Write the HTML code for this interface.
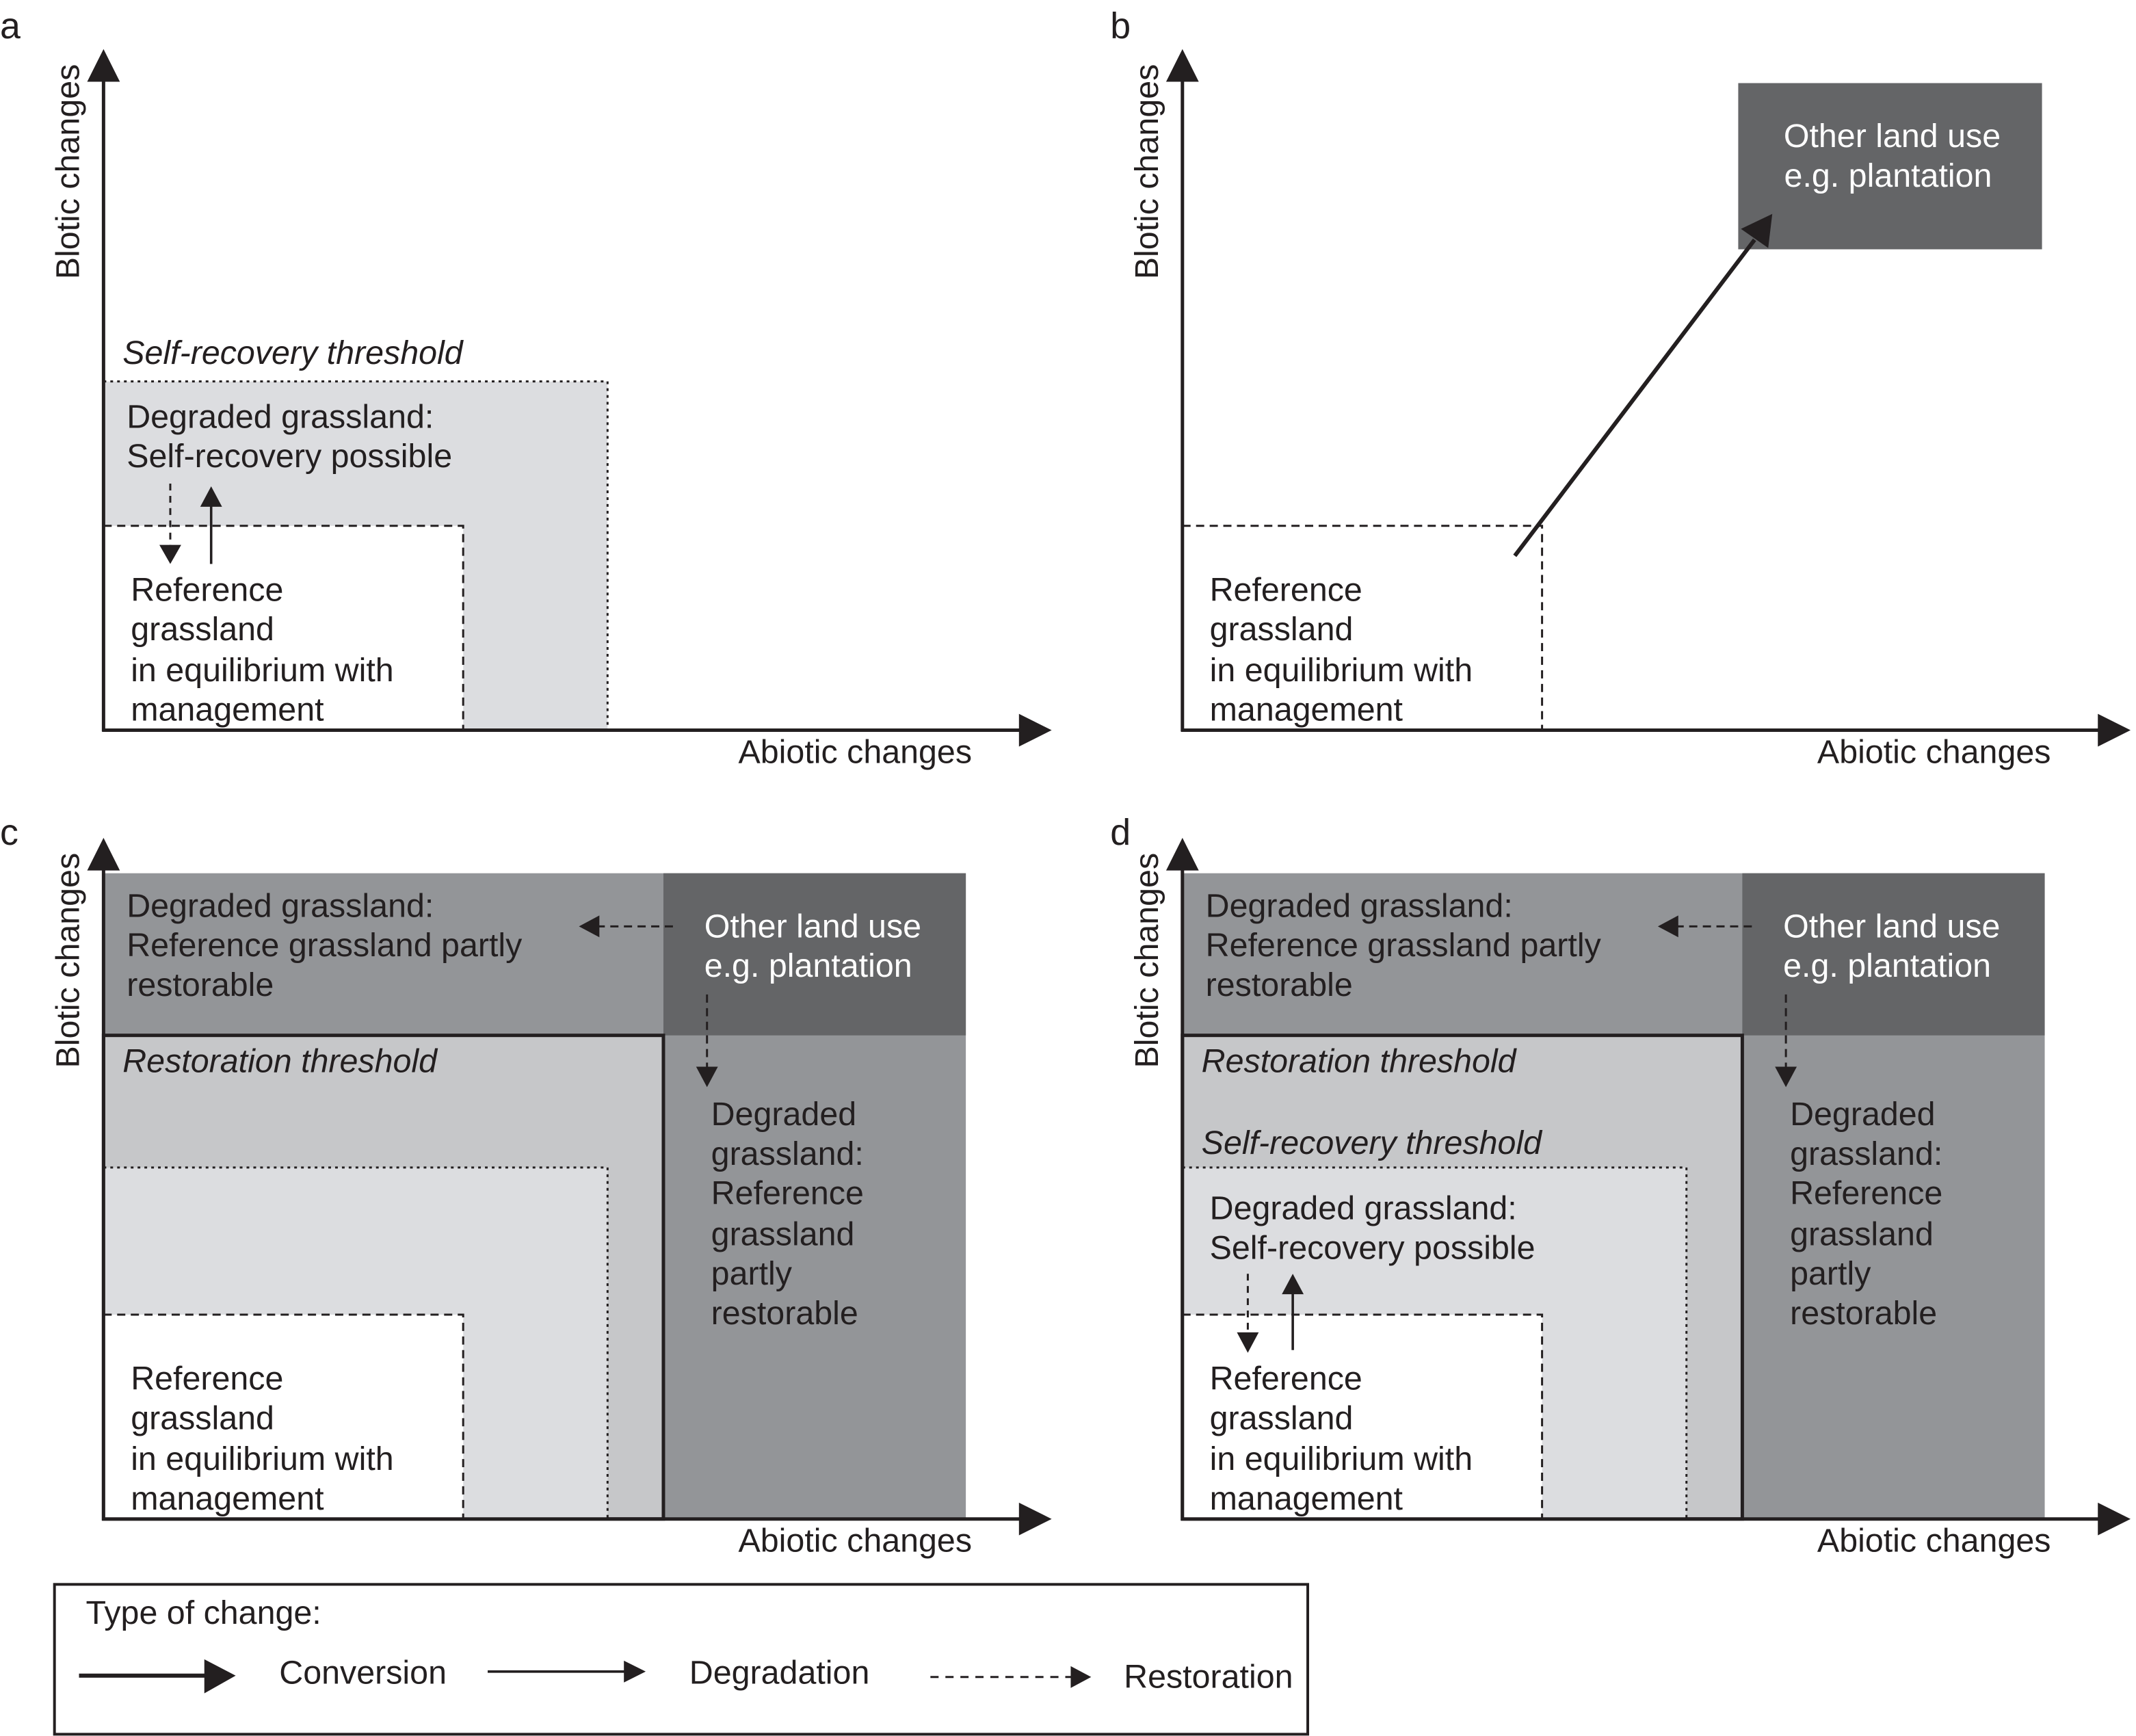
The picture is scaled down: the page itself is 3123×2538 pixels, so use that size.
<!DOCTYPE html>
<html><head><meta charset="utf-8"><style>
html,body{margin:0;padding:0;background:#fff}
svg{display:block}
text{font-family:"Liberation Sans",sans-serif;font-size:24.3px;fill:#231f20}
.it{font-style:italic}
.w{fill:#fff}
</style></head><body>
<svg width="3123" height="2538" viewBox="0 0 1568 1274.3" preserveAspectRatio="none" xmlns="http://www.w3.org/2000/svg">
<defs>
<g id="axes">
<line x1="76" y1="56" x2="76" y2="537" stroke="#231f20" stroke-width="2.5"/>
<polygon points="64,60 88,60 76,36" fill="#231f20"/>
<line x1="75" y1="536" x2="752" y2="536" stroke="#231f20" stroke-width="2.5"/>
<polygon points="748,524 748,548 772,536" fill="#231f20"/>
<text transform="translate(58,205) rotate(-90)">Blotic changes</text>
<text x="542" y="560">Abiotic changes</text>
</g>
<g id="ref">
<rect x="76" y="386" width="264" height="150" fill="#fff" stroke="#231f20" stroke-width="1.5" stroke-dasharray="6,4"/>
<text x="96" y="441">Reference</text>
<text x="96" y="470">grassland</text>
<text x="96" y="500">in equilibrium with</text>
<text x="96" y="529">management</text>
</g>
<g id="cbase">
<rect x="76" y="641" width="633" height="474" fill="#939598"/>
<rect x="487" y="641" width="222" height="119" fill="#646567"/>
<rect x="76" y="760" width="411" height="355" fill="#c6c7c9" stroke="#231f20" stroke-width="2.5"/>
<rect x="76" y="857" width="370" height="258" fill="#dcdde0" stroke="#231f20" stroke-width="1.5" stroke-dasharray="2,3"/>
<g transform="translate(0,579)"><use href="#ref"/></g>
<g transform="translate(0,579)"><use href="#axes"/></g>
<text x="93" y="673">Degraded grassland:</text>
<text x="93" y="702">Reference grassland partly</text>
<text x="93" y="731">restorable</text>
<text x="517" y="688" class="w">Other land use</text>
<text x="517" y="717" class="w">e.g. plantation</text>
<text x="90" y="787" class="it">Restoration threshold</text>
<text x="522" y="826">Degraded</text>
<text x="522" y="855">grassland:</text>
<text x="522" y="884">Reference</text>
<text x="522" y="914">grassland</text>
<text x="522" y="943">partly</text>
<text x="522" y="972">restorable</text>
<line x1="494" y1="680" x2="438" y2="680" stroke="#231f20" stroke-width="1.5" stroke-dasharray="6,4"/>
<polygon points="440,672 440,688 425,680" fill="#231f20"/>
<line x1="519" y1="730" x2="519" y2="785" stroke="#231f20" stroke-width="1.5" stroke-dasharray="6,4"/>
<polygon points="511,783 527,783 519,798" fill="#231f20"/>
</g>
</defs>

<!-- panel a -->
<text x="0" y="28" style="font-size:27px">a</text>
<rect x="76" y="280" width="370" height="256" fill="#dcdde0" stroke="#231f20" stroke-width="1.5" stroke-dasharray="2,3"/>
<use href="#ref"/>
<use href="#axes"/>
<text x="90" y="267" class="it">Self-recovery threshold</text>
<text x="93" y="314">Degraded grassland:</text>
<text x="93" y="343">Self-recovery possible</text>
<line x1="125" y1="355" x2="125" y2="402" stroke="#231f20" stroke-width="1.5" stroke-dasharray="5,4"/>
<polygon points="117,400 133,400 125,414" fill="#231f20"/>
<line x1="155" y1="414" x2="155" y2="370" stroke="#231f20" stroke-width="1.8"/>
<polygon points="147,372 163,372 155,357" fill="#231f20"/>

<!-- panel b -->
<text x="815" y="28" style="font-size:27px">b</text>
<g transform="translate(792,0)"><use href="#ref"/><use href="#axes"/></g>
<rect x="1276" y="61" width="223" height="122" fill="#646567"/>
<text x="1389" y="108" class="w" text-anchor="middle">Other land use</text>
<text x="1386" y="137" class="w" text-anchor="middle">e.g. plantation</text>
<line x1="1112" y1="408" x2="1288" y2="176" stroke="#231f20" stroke-width="3"/>
<polygon points="1278,168 1298,182 1301,157" fill="#231f20"/>

<!-- panel c -->
<text x="0" y="620" style="font-size:27px">c</text>
<use href="#cbase"/>

<!-- panel d -->
<text x="815" y="620" style="font-size:27px">d</text>
<g transform="translate(792,0)"><use href="#cbase"/></g>
<text x="882" y="847" class="it">Self-recovery threshold</text>
<text x="888" y="895">Degraded grassland:</text>
<text x="888" y="924">Self-recovery possible</text>
<line x1="916" y1="935" x2="916" y2="980" stroke="#231f20" stroke-width="1.5" stroke-dasharray="5,4"/>
<polygon points="908,978 924,978 916,993" fill="#231f20"/>
<line x1="949" y1="991" x2="949" y2="948" stroke="#231f20" stroke-width="1.8"/>
<polygon points="941,950 957,950 949,935" fill="#231f20"/>

<!-- legend -->
<rect x="40" y="1163" width="920" height="110" fill="none" stroke="#231f20" stroke-width="2"/>
<text x="63" y="1192">Type of change:</text>
<line x1="58" y1="1230" x2="152" y2="1230" stroke="#231f20" stroke-width="3"/>
<polygon points="150,1218 150,1243 173,1230" fill="#231f20"/>
<text x="205" y="1236">Conversion</text>
<line x1="358" y1="1227" x2="460" y2="1227" stroke="#231f20" stroke-width="1.8"/>
<polygon points="458,1219 458,1235 474,1227" fill="#231f20"/>
<text x="506" y="1236">Degradation</text>
<line x1="683" y1="1231" x2="787" y2="1231" stroke="#231f20" stroke-width="1.5" stroke-dasharray="6,5"/>
<polygon points="786,1223 786,1239 801,1231" fill="#231f20"/>
<text x="825" y="1239">Restoration</text>
</svg>
</body></html>
